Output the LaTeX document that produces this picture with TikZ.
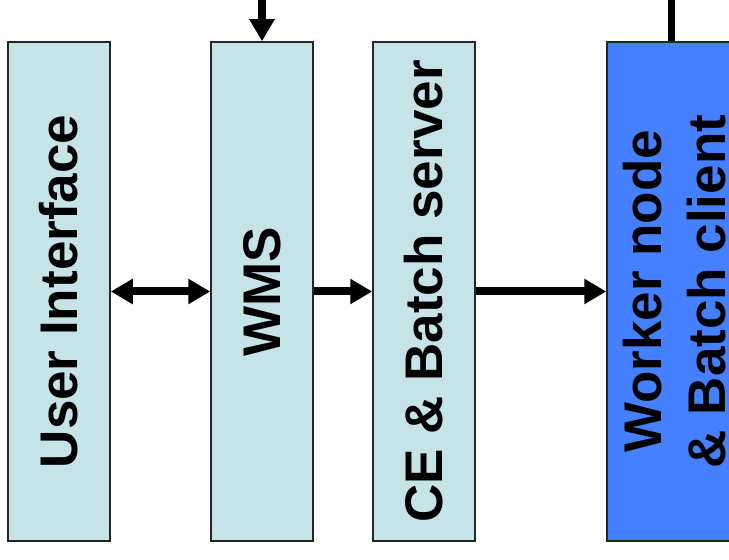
\documentclass[tikz,border=0pt]{standalone}
\usepackage{fontspec}
\setmainfont{Liberation Sans}
\usetikzlibrary{arrows.meta,positioning}
\definecolor{paleblue}{HTML}{C6E4E8}
\definecolor{workblue}{HTML}{4580FF}
\tikzset{
	block/.style={rectangle,draw=black!85,line width=1.5pt,fill=paleblue,inner sep=0pt,minimum width=102pt,minimum height=499pt,font=\bfseries\fontsize{53}{64}\selectfont},
	workblock/.style={block,fill=workblue,minimum width=148pt},
	flow/.style={-{Triangle[width=24pt,length=22pt]},line width=8pt,color=black},
	dflow/.style={{Triangle[width=24pt,length=22pt]}-{Triangle[width=24pt,length=22pt]},line width=8pt,color=black},
	feed/.style={line width=7pt,color=black}
}
\newcommand{\vtext}[1]{\rotatebox{90}{#1}}
\newcommand{\vvtext}[1]{\rotatebox{90}{\begin{tabular}{@{}c@{}}#1\end{tabular}}}
\begin{document}
\begin{tikzpicture}[x=1pt,y=1pt]
	\useasboundingbox (0,0) rectangle (729,560);
	\clip (0,0) rectangle (729,560);
	
	%%%% boxes
	\node[block] (ui) at (59,268.5) {\vtext{User Interface}};
	\node[block] (wms) at (262,268.5) {\vtext{WMS}};
	\node[block] (ce) at (424,268.5) {\vtext{CE \& Batch server}};
	\node[workblock] (wn) at (681,268.5) {\vvtext{Worker node\\ \& Batch client}};
	
	%%%% inputs from above
	\coordinate (wmsin) at (262,560);
	\coordinate (wnin) at (671,560);
	
	\draw[dflow] (ui) -- (wms);
	\draw[flow] (wms) -- (ce);
	\draw[flow] (ce) -- (wn);
	\draw[flow] (wmsin) -- (wms.north);
	\draw[feed] (wnin) -- (wnin |- wn.north);
\end{tikzpicture}
\end{document}
